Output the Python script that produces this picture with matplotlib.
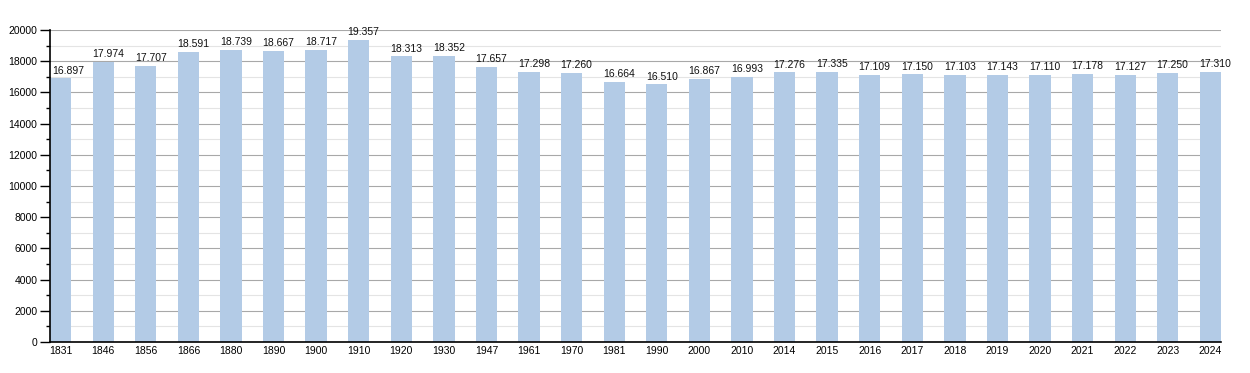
import matplotlib
matplotlib.use("Agg")
import matplotlib.pyplot as plt
from matplotlib.ticker import MultipleLocator

years = ["1831", "1846", "1856", "1866", "1880", "1890", "1900", "1910", "1920", "1930",
         "1947", "1961", "1970", "1981", "1990", "2000", "2010", "2014", "2015", "2016",
         "2017", "2018", "2019", "2020", "2021", "2022", "2023", "2024"]
population = [16897, 17974, 17707, 18591, 18739, 18667, 18717, 19357, 18313, 18352,
              17657, 17298, 17260, 16664, 16510, 16867, 16993, 17276, 17335, 17109,
              17150, 17103, 17143, 17110, 17178, 17127, 17250, 17310]

plt.rcParams['font.family'] = ['Liberation Sans', 'DejaVu Sans']

fig = plt.figure(figsize=(12.5, 3.73), dpi=100)
ax = fig.add_axes([0.04, 0.0831, 0.9368, 0.8365])

x = list(range(len(years)))
ax.bar(x, population, width=0.5, color="#b3cbe6", zorder=2)

for i, (xi, v) in enumerate(zip(x, population)):
    label = f"{v:,}".replace(",", ".")
    if i == 0:
        ax.annotate(label, (xi - 0.25, v), xytext=(1.5, 2), textcoords="offset points",
                    ha="left", va="bottom", fontsize=7.5, color="#111111", zorder=3)
    else:
        ax.annotate(label, (xi, v), xytext=(3.5, 2), textcoords="offset points",
                    ha="center", va="bottom", fontsize=7.5, color="#111111", zorder=3)

ax.set_xlim(-0.25, len(years) - 0.75)
ax.set_ylim(0, 20000)
ax.set_xticks(x)
ax.set_xticklabels(years, fontsize=7.5)
ax.tick_params(axis="x", length=0, pad=3)
ax.yaxis.set_major_locator(MultipleLocator(2000))
ax.yaxis.set_minor_locator(MultipleLocator(1000))
ax.tick_params(axis="y", which="major", length=7, width=1, labelsize=7.5, pad=2)
ax.tick_params(axis="y", which="minor", length=3, width=1)
ax.grid(axis="y", which="major", color="#a8a8a8", linewidth=0.8, zorder=0)
ax.grid(axis="y", which="minor", color="#e4e4e4", linewidth=0.8, zorder=0)
ax.set_axisbelow(True)
for s in ["top", "right"]:
    ax.spines[s].set_visible(False)
ax.spines["left"].set_linewidth(1.2)
ax.spines["bottom"].set_linewidth(1.2)

fig.savefig("out.png", dpi=100)
